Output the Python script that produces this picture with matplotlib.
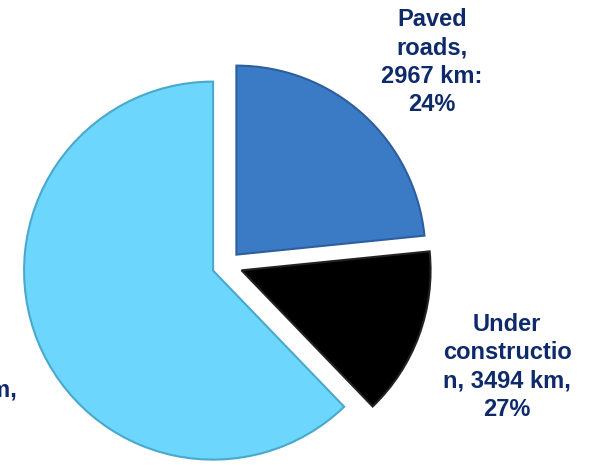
import matplotlib
matplotlib.use("Agg")
import matplotlib.pyplot as plt

# slice shares as drawn (clockwise from 12 o'clock)
shares = [23.4, 14.4, 62.2]
labels = ["Paved\nroads,\n2967 km:\n24%",
          "Under\nconstructio\nn, 3494 km,\n27%",
          "km,"]
colors = ["#3b7bc6", "#000000", "#6dd6fc"]
edges = ["#2c5f9c", "#222222", "#4aa8cc"]
explode = [14, 15.5, 15]  # pixels (pie uses data units)

W, H = 602, 465
fig = plt.figure(figsize=(W / 100, H / 100), dpi=100)
ax = fig.add_axes([0, 0, 1, 1])

wedges, _ = ax.pie(shares, colors=colors, explode=explode, startangle=90,
                   counterclock=False, radius=189, center=(227, H - 265),
                   wedgeprops=dict(linewidth=1.5))
for w, ec in zip(wedges, edges):
    w.set_edgecolor(ec)

ax.set_xlim(0, W)
ax.set_ylim(0, H)
ax.set_aspect("equal")
ax.axis("off")

txt = dict(color="#0f2a6b", fontsize=17, fontweight="bold",
           family="Liberation Sans", linespacing=1.3)
ax.text(432, H - 62, labels[0], ha="center", va="center", **txt)
ax.text(507, H - 367, labels[1], ha="center", va="center", **txt)
ax.text(17, H - 390, labels[2], ha="right", va="center", **txt)

plt.savefig("out.png", dpi=100)
